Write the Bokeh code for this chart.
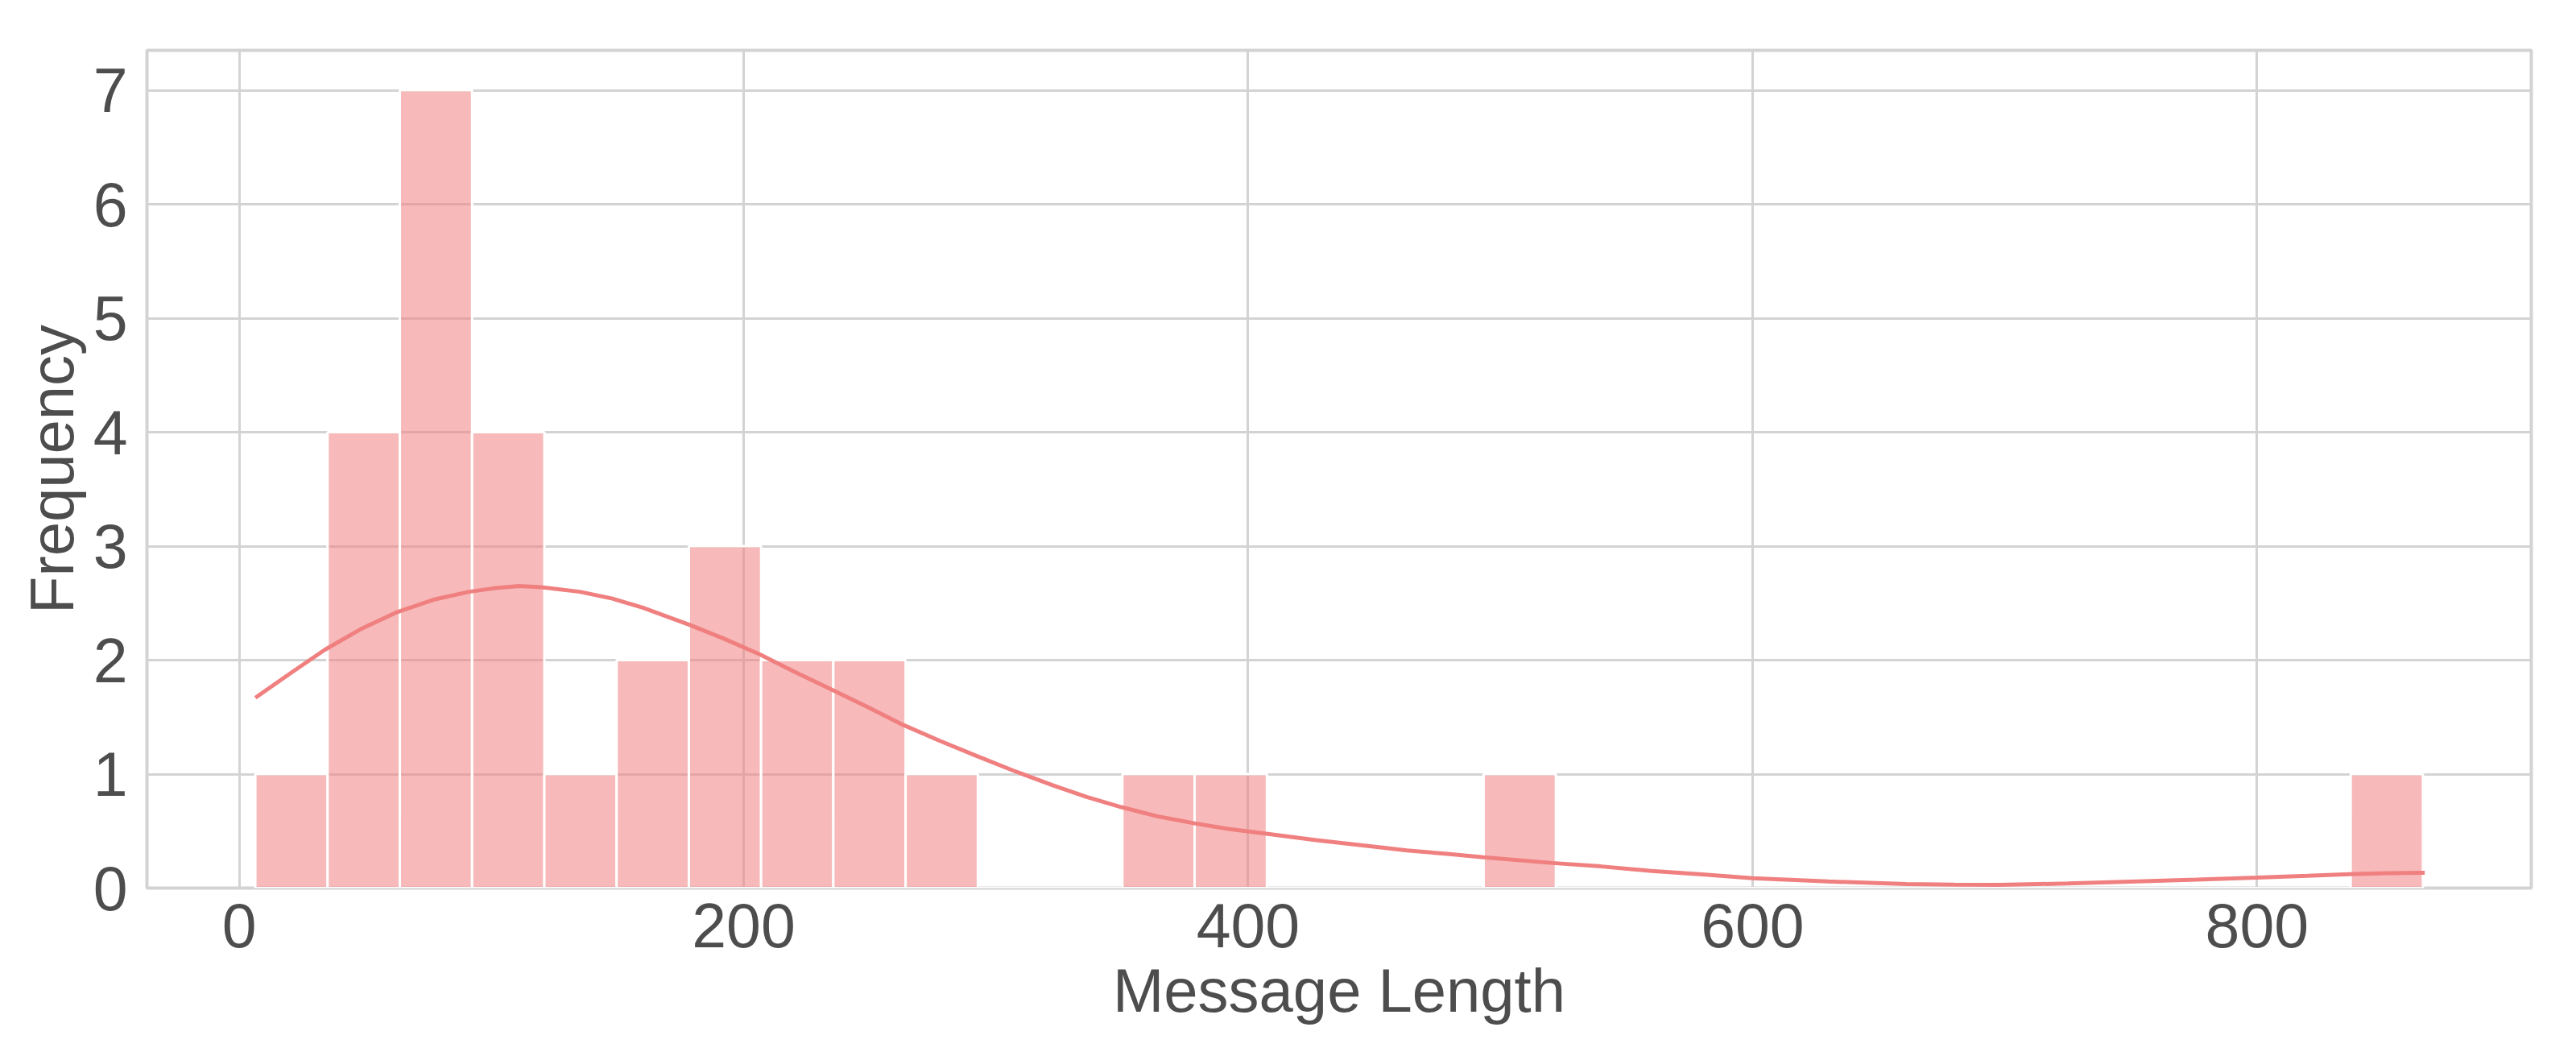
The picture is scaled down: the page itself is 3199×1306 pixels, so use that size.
import numpy as np
from bokeh.plotting import figure
from bokeh.models import Range1d, FixedTicker
from bokeh.embed import file_html
from bokeh.resources import INLINE

# ---- data ----
bin_lo = 6.4
bin_hi = 865.8
counts = [1, 4, 7, 4, 1, 2, 3, 2, 2, 1,
          0, 0, 1, 1, 0, 0, 0, 1, 0, 0,
          0, 0, 0, 0, 0, 0, 0, 0, 0, 1]

kde_x = [6.4, 20, 33.9, 48, 62.5, 77, 91.2, 101, 111, 119.8, 135, 148, 160, 178.5,
         192, 206.5, 220, 235, 249, 263.4, 278, 292.3, 307, 322.8, 336, 349.8, 364,
         378.3, 392, 406, 427, 447.6, 463, 478.9, 493.3, 520.7, 540, 560, 580, 600,
         630, 661, 680, 697.6, 725, 752.4, 776, 800, 820, 836.6, 852, 866.5]
kde_y = [1.67, 1.88, 2.09, 2.27, 2.42, 2.53, 2.60, 2.63, 2.65, 2.64, 2.60, 2.54,
         2.46, 2.31, 2.19, 2.05, 1.90, 1.74, 1.59, 1.43, 1.29, 1.16, 1.03, 0.90,
         0.80, 0.71, 0.63, 0.57, 0.52, 0.48, 0.42, 0.37, 0.33, 0.30, 0.27, 0.22,
         0.19, 0.15, 0.12, 0.087, 0.058, 0.035, 0.030, 0.028, 0.040, 0.059, 0.075,
         0.092, 0.108, 0.122, 0.130, 0.134]

x_ticks = [0, 200, 400, 600, 800]
y_ticks = [0, 1, 2, 3, 4, 5, 6, 7]
x_label = "Message Length"
y_label = "Frequency"

edges = np.linspace(bin_lo, bin_hi, len(counts) + 1)

TEXT = "#4D4D4D"
GRID = "#D3D3D3"
FONT = "Liberation Sans"
TICK_FS = "77px"
LABEL_FS = "76px"

span = bin_hi - bin_lo
p = figure(
    frame_width=2961, frame_height=1040,
    min_border_left=182, min_border_top=62, min_border_right=48, min_border_bottom=190,
    x_range=Range1d(bin_lo - 0.05 * span, bin_hi + 0.05 * span),
    y_range=Range1d(0, max(counts) * 1.05),
    output_backend="svg", toolbar_location=None,
    background_fill_color="white", border_fill_color="white",
)

p.quad(left=edges[:-1], right=edges[1:], bottom=0, top=counts,
       fill_color="#F08080", fill_alpha=0.55,
       line_color="white", line_width=3)

p.line(kde_x, kde_y, line_color="#F08080", line_width=5)

p.outline_line_color = GRID
p.outline_line_width = 4

for ax in (p.xaxis[0], p.yaxis[0]):
    ax.axis_line_color = None
    ax.major_tick_line_color = None
    ax.minor_tick_line_color = None
    ax.major_tick_out = 0
    ax.major_tick_in = 0
    ax.major_label_text_font = FONT
    ax.major_label_text_font_size = TICK_FS
    ax.major_label_text_color = TEXT
    ax.axis_label_text_font = FONT
    ax.axis_label_text_font_size = LABEL_FS
    ax.axis_label_text_color = TEXT
    ax.axis_label_text_font_style = "normal"

p.xaxis.ticker = FixedTicker(ticks=x_ticks)
p.yaxis.ticker = FixedTicker(ticks=y_ticks)
p.xaxis.axis_label = x_label
p.yaxis.axis_label = y_label
p.xaxis.major_label_standoff = 19
p.xaxis.axis_label_standoff = 8
p.yaxis.major_label_standoff = 24
p.yaxis.axis_label_standoff = 6
p.yaxis.major_label_orientation = "horizontal"

p.xgrid.ticker = FixedTicker(ticks=x_ticks)
p.ygrid.ticker = FixedTicker(ticks=y_ticks)
p.grid.grid_line_color = GRID
p.grid.grid_line_width = 3

open("out.html", "w").write(file_html(p, INLINE))
